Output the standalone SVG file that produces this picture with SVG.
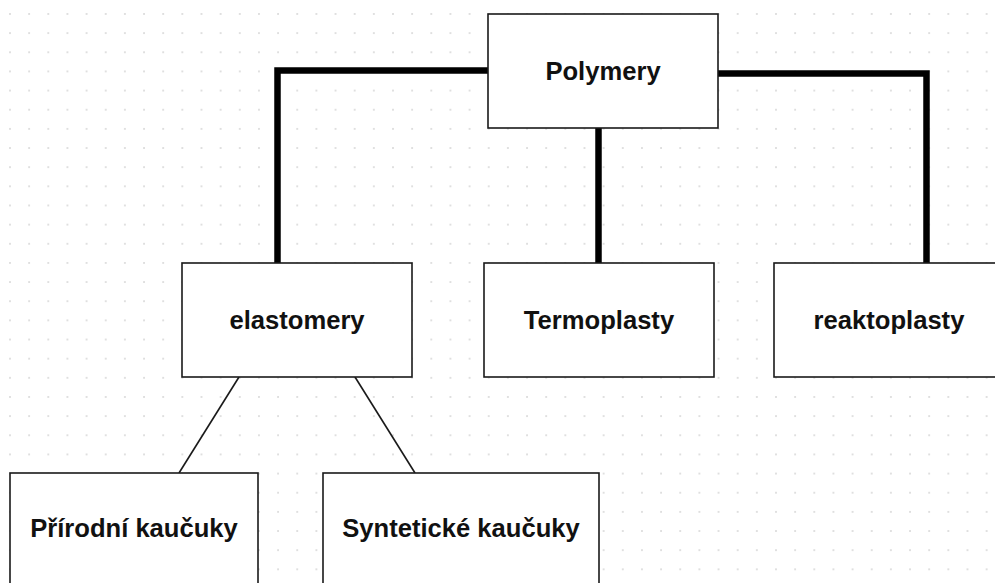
<svg xmlns="http://www.w3.org/2000/svg" width="995" height="583" viewBox="0 0 995 583">
<defs>
<pattern id="grid" x="0.4" y="4.4" width="19.15" height="19.15" patternUnits="userSpaceOnUse">
<circle cx="9.6" cy="9.6" r="0.9" fill="#d2d2d2"/>
</pattern>
<style>
.box{fill:#ffffff;stroke:#1a1a1a;stroke-width:1.6}
.lbl{font-family:"Liberation Sans",Arial,sans-serif;font-weight:bold;font-size:25.6px;fill:#111;text-anchor:middle}
.thick{fill:none;stroke:#000;stroke-width:6.5;stroke-linejoin:miter}
.thin{fill:none;stroke:#1a1a1a;stroke-width:1.6}
</style>
</defs>
<rect width="995" height="583" fill="#ffffff"/>
<rect width="995" height="583" fill="url(#grid)"/>
<g id="connectors">
<polyline class="thick" points="488,70.5 277.5,70.5 277.5,263"/>
<polyline class="thick" points="718,73.5 926.5,73.5 926.5,263"/>
<line class="thick" x1="598.5" y1="128" x2="598.5" y2="263"/>
<line class="thin" x1="239" y1="377" x2="179" y2="473"/>
<line class="thin" x1="355" y1="377" x2="415" y2="473"/>
</g>
<g id="polymery">
<rect class="box" x="488" y="14" width="230" height="114"/>
<text class="lbl" x="603" y="80">Polymery</text>
</g>
<g id="elastomery">
<rect class="box" x="182" y="263" width="230" height="114"/>
<text class="lbl" x="297" y="328.5">elastomery</text>
</g>
<g id="termoplasty">
<rect class="box" x="484" y="263" width="230" height="114"/>
<text class="lbl" x="599" y="328.5">Termoplasty</text>
</g>
<g id="reaktoplasty">
<rect class="box" x="774" y="263" width="230" height="114"/>
<text class="lbl" x="889" y="328.5">reaktoplasty</text>
</g>
<g id="prirodni">
<rect class="box" x="10" y="473" width="248" height="114"/>
<text class="lbl" x="134" y="537">Přírodní kaučuky</text>
</g>
<g id="synteticke">
<rect class="box" x="323" y="473" width="276" height="114"/>
<text class="lbl" x="461" y="537">Syntetické kaučuky</text>
</g>
</svg>
